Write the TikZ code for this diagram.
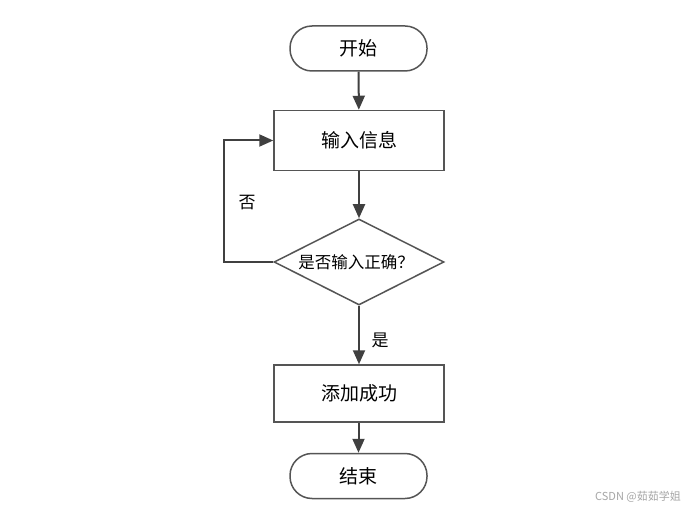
\documentclass[tikz,border=0pt]{standalone}
\usepackage{fontspec}
\newfontfamily\cjk{Noto Sans CJK SC}
\usetikzlibrary{shapes.geometric,arrows.meta}
\definecolor{linec}{HTML}{404040}
\definecolor{boxc}{HTML}{555555}
\tikzset{
  terminal/.style={draw=boxc,line width=1.5bp,rounded corners=22bp,minimum width=137bp,minimum height=45bp,font=\cjk\fontsize{19bp}{21bp}\selectfont},
  procbox/.style={draw=boxc,line width=1.5bp,minimum width=170bp,minimum height=60bp,font=\cjk\fontsize{19bp}{21bp}\selectfont},
  decision/.style={draw=boxc,line width=1.5bp,diamond,aspect=2,minimum width=170bp,minimum height=86bp,inner sep=0pt},
  flow/.style={draw=linec,line width=2bp,-{Triangle[width=12bp,length=14bp]}},
  lbl/.style={font=\cjk\fontsize{17bp}{19bp}\selectfont}
}
\begin{document}
\begin{tikzpicture}[x=1bp,y=-1bp]
\useasboundingbox (0,0) rectangle (696,511);
\fill[white] (0,0) rectangle (696,511);
\node[terminal] (start) at (358.5,48.5) {开始};
\node[procbox] (input) at (359,140.5) {输入信息};
\node[decision] (check) at (359,262) {};
\node[font=\cjk\fontsize{16.5bp}{18bp}\selectfont] (checktxt) at (356,262) {是否输入正确？};
\node[procbox,minimum height=57bp] (ok) at (359,393.5) {添加成功};
\node[terminal] (end) at (358.5,476) {结束};
\coordinate (loopA) at (224,262);
\coordinate (loopB) at (224,140.5);
\draw[flow] (start) -- (input);
\draw[flow] (input) -- (check);
\draw[flow] (check.south) -- (ok.north);
\draw[flow] (end.north |- ok.south) -- (end.north);
\draw[flow] (check.west) -- (loopA) -- (loopB) -- (input.west);
\node[lbl] (no) at (247,203) {否};
\node[lbl] (yes) at (380,340) {是};
\node[font=\cjk\fontsize{11bp}{12bp}\selectfont,text=black!35] (wm) at (638,497) {CSDN @茹茹学姐};
\end{tikzpicture}
\end{document}
